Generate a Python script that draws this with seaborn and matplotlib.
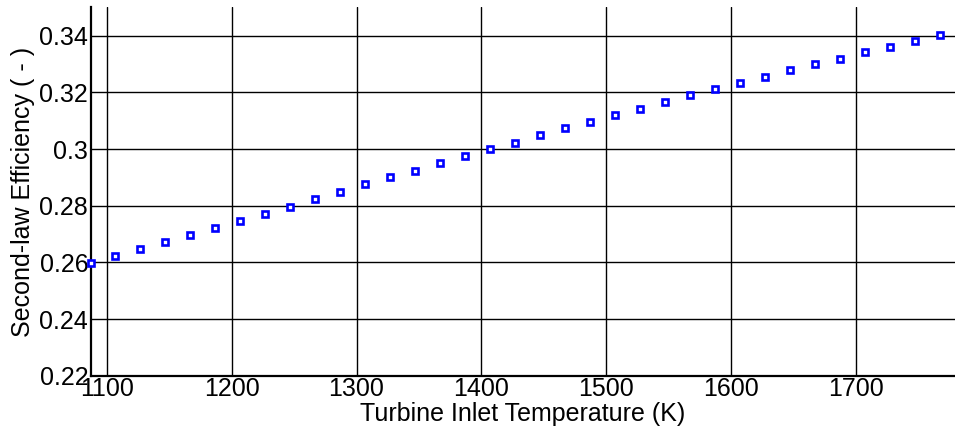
import matplotlib
matplotlib.use('Agg')
import matplotlib.pyplot as plt
import seaborn as sns
import pandas as pd
from matplotlib.ticker import FuncFormatter

# turbine inlet temperature (K), steps of 20 K
tit = [1087, 1107, 1127, 1147, 1167, 1187, 1207, 1227, 1247, 1267, 1287, 1307,
       1327, 1347, 1367, 1387, 1407, 1427, 1447, 1467, 1487, 1507, 1527, 1547,
       1567, 1587, 1607, 1627, 1647, 1667, 1687, 1707, 1727, 1747, 1767]
# second-law efficiency
eff = [0.2597, 0.2622, 0.2646, 0.2671, 0.2696, 0.2720, 0.2745, 0.2772, 0.2797,
       0.2823, 0.2850, 0.2876, 0.2901, 0.2924, 0.2950, 0.2975, 0.3000, 0.3023,
       0.3049, 0.3074, 0.3095, 0.3120, 0.3142, 0.3167, 0.3189, 0.3212, 0.3233,
       0.3255, 0.3278, 0.3300, 0.3319, 0.3341, 0.3360, 0.3381, 0.3402]
xticks = [1100, 1200, 1300, 1400, 1500, 1600, 1700]
yticks = [0.22, 0.24, 0.26, 0.28, 0.30, 0.32, 0.34]

df = pd.DataFrame({'tit': tit, 'eff': eff})

sns.set_style('white')
plt.rcParams['font.family'] = ['Liberation Sans', 'DejaVu Sans']
plt.rcParams['text.color'] = 'black'
plt.rcParams['axes.labelcolor'] = 'black'
plt.rcParams['xtick.color'] = 'black'
plt.rcParams['ytick.color'] = 'black'

fig = plt.figure(figsize=(9.55, 4.33), dpi=100)
ax = fig.add_axes([0.0953, 0.1323, 0.9047, 0.8507])

ax.grid(True, color='black', linewidth=1.0)
ax.set_axisbelow(True)

sns.lineplot(data=df, x='tit', y='eff', ax=ax, linestyle='none', marker='s',
             markersize=4.2, markerfacecolor='white', markeredgecolor='#0000ff',
             markeredgewidth=1.9, clip_on=False, zorder=5)

ax.set_xlim(1087.4, 1779.2)
ax.set_ylim(0.22, 0.35)
ax.set_xticks(xticks)
ax.set_yticks(yticks)
ax.yaxis.set_major_formatter(FuncFormatter(lambda v, p: '%g' % round(v, 2)))

for side in ['top', 'right']:
    ax.spines[side].set_visible(False)
for side in ['left', 'bottom']:
    ax.spines[side].set_color('black')
    ax.spines[side].set_linewidth(1.6)

ax.tick_params(axis='both', labelsize=18, direction='in', length=3, color='black',
               labelcolor='black')
ax.tick_params(axis='x', pad=1)
ax.tick_params(axis='y', pad=2)

ax.set_xlabel('Turbine Inlet Temperature (K)', fontsize=18, labelpad=1)
ax.set_ylabel('Second-law Efficiency ( - )', fontsize=18, labelpad=3)

fig.savefig('out.png', dpi=100)
